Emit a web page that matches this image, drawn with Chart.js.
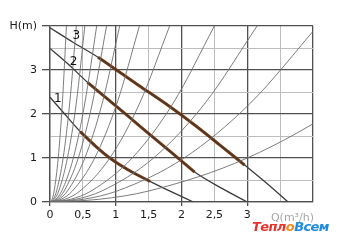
<!DOCTYPE html>
<html>
<head>
<meta charset="utf-8">
<script src="https://cdn.jsdelivr.net/npm/chart.js@4.4.1/dist/chart.umd.min.js"></script>
<style>
body { margin: 0; background: #fff; }
#wrap { position: relative; width: 338px; height: 246px; }
#logo { position: absolute; left: 252px; top: 219px; font: italic bold 13px "DejaVu Sans"; letter-spacing: -0.6px; }
</style>
</head>
<body>
<div id="wrap">
<canvas id="pumpChart" width="338" height="246"></canvas>
<div id="logo"><span style="color:#e8322b">Тепл</span><span style="color:#f08a1c">о</span><span style="color:#1d8be0">Всем</span></div>
</div>
<script>
// pump curves 1-3 (Q in m3/h, H in m)
const curve1Q = [0, 0.2, 0.46, 0.7, 0.91, 1.2, 1.52, 1.85, 2.18];
const curve1H = [2.38, 2.04, 1.6, 1.26, 1.0, 0.72, 0.47, 0.23, 0];
const curve2Q = [0, 0.3, 0.57, 0.9, 1.22, 1.52, 1.85, 2.2, 2.6, 3.0];
const curve2H = [3.49, 3.1, 2.72, 2.31, 1.91, 1.53, 1.12, 0.68, 0.32, 0];
const curve3Q = [0, 0.35, 0.73, 1.05, 1.34, 1.82, 2.2, 2.58, 2.96, 3.3, 3.62];
const curve3H = [3.96, 3.63, 3.29, 2.96, 2.66, 2.17, 1.75, 1.3, 0.84, 0.42, 0];
// working range (brown part), as index ranges into the curves above
const work1 = [2, 6];
const work2 = [2, 7];
const work3 = [2, 8];

// system curves: Q read at these heads
const sysH = [0, 0.0625, 0.25, 1, 2.25, 4];
const sysQ = [
    [0, 0.031, 0.063, 0.125, 0.188, 0.25],
    [0, 0.05, 0.1, 0.2, 0.3, 0.4],
    [0, 0.066, 0.133, 0.265, 0.4, 0.53],
    [0, 0.089, 0.178, 0.355, 0.53, 0.71],
    [0, 0.108, 0.215, 0.43, 0.645, 0.86],
    [0, 0.133, 0.265, 0.53, 0.795, 1.06],
    [0, 0.17, 0.34, 0.68, 1.02, 1.36],
    [0, 0.228, 0.455, 0.91, 1.365, 1.82],
    [0, 0.313, 0.625, 1.25, 1.875, 2.5],
    [0, 0.394, 0.788, 1.575, 2.36, 3.15],
    [0, 0.51, 1.02, 2.04, 3.05, 4.07],
    [0, 0.75, 1.5, 3.0, 4.5, 6.0]
];

const xTickLabels = ['0', '0,5', '1', '1,5', '2', '2,5', '3', '', ''];
const yTickLabels = ['0', '', '1', '', '2', '', '3', '', 'H(m)'];

const pts = (qs, hs) => qs.map((q, i) => ({ x: q, y: hs[i] }));

const datasets = [];
sysQ.forEach(qs => datasets.push({
    data: pts(qs, sysH), borderColor: '#6e6e6e', borderWidth: 0.9,
    pointRadius: 0, showLine: true, cubicInterpolationMode: 'monotone'
}));
[[curve1Q, curve1H], [curve2Q, curve2H], [curve3Q, curve3H]].forEach(c => datasets.push({
    data: pts(c[0], c[1]), borderColor: '#3c3c3c', borderWidth: 1.3,
    pointRadius: 0, showLine: true, cubicInterpolationMode: 'monotone'
}));
[[curve1Q, curve1H, work1], [curve2Q, curve2H, work2], [curve3Q, curve3H, work3]].forEach(c => datasets.push({
    data: pts(c[0], c[1]).slice(c[2][0], c[2][1] + 1), borderColor: '#853705', borderWidth: 3,
    pointRadius: 0, showLine: true, cubicInterpolationMode: 'monotone'
}));

const major = ctx => ctx.tick && Math.abs(ctx.tick.value - Math.round(ctx.tick.value)) < 1e-6;

// curve numbers and the Q axis title
const labelsPlugin = {
    id: 'labels',
    afterDatasetsDraw(chart) {
        const { ctx, scales: { x, y } } = chart;
        ctx.save();
        ctx.font = '12px "DejaVu Sans"';
        ctx.fillStyle = '#111';
        ctx.textAlign = 'center';
        ctx.textBaseline = 'middle';
        ctx.fillText('1', x.getPixelForValue(0.12), y.getPixelForValue(2.35));
        ctx.fillText('2', x.getPixelForValue(0.36), y.getPixelForValue(3.18));
        ctx.fillText('3', x.getPixelForValue(0.4), y.getPixelForValue(3.78));
        ctx.font = '11px "DejaVu Sans"';
        ctx.fillStyle = '#a6a6a6';
        ctx.textAlign = 'right';
        ctx.fillText('Q(m³/h)', chart.chartArea.right + 1, 218);
        ctx.restore();
    }
};

new Chart(document.getElementById('pumpChart'), {
    type: 'scatter',
    data: { datasets: datasets },
    options: {
        responsive: false,
        animation: false,
        layout: { padding: { top: 26, right: 25, left: 0, bottom: 14 } },
        plugins: { legend: { display: false }, tooltip: { enabled: false } },
        scales: {
            x: {
                type: 'linear', min: 0, max: 4,
                afterFit: s => { s.height = 30; },
                border: { color: '#505050', width: 1.3 },
                grid: {
                    color: c => major(c) ? '#505050' : '#bdbdbd',
                    lineWidth: c => major(c) ? 1.3 : 1,
                    tickColor: c => (major(c) && c.tick.value <= 3) ? '#505050' : 'rgba(0,0,0,0)',
                    tickLength: 4
                },
                ticks: {
                    stepSize: 0.5, padding: 3, maxRotation: 0, autoSkip: false,
                    color: '#1a1a1a', font: { family: 'DejaVu Sans', size: 11 },
                    callback: (v, i) => xTickLabels[i]
                }
            },
            y: {
                min: 0, max: 4,
                afterFit: s => { s.width = 50; },
                border: { color: '#505050', width: 1.3 },
                grid: {
                    color: c => major(c) ? '#505050' : '#bdbdbd',
                    lineWidth: c => major(c) ? 1.3 : 1,
                    tickColor: c => major(c) ? '#505050' : 'rgba(0,0,0,0)',
                    tickLength: 8
                },
                ticks: {
                    stepSize: 0.5, padding: 5, autoSkip: false,
                    color: '#1a1a1a', font: { family: 'DejaVu Sans', size: 11 },
                    callback: (v, i) => yTickLabels[i]
                }
            }
        }
    },
    plugins: [labelsPlugin]
});
</script>
</body>
</html>
